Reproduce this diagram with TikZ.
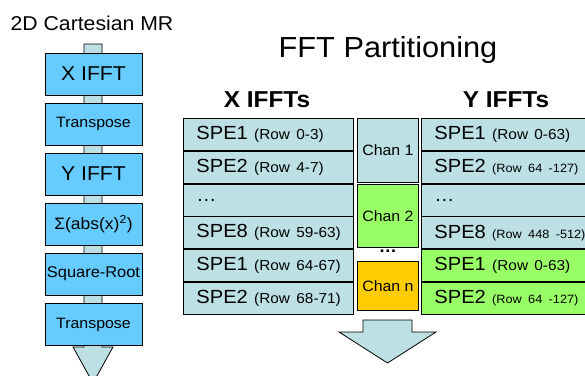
\documentclass[tikz,border=0pt]{standalone}
\usepackage{fontspec}
\setmainfont{Liberation Sans}[FakeStretch=1.06]
\usetikzlibrary{positioning, backgrounds}
\definecolor{stepblue}{RGB}{102,204,255}
\definecolor{rowblue}{RGB}{188,224,228}
\definecolor{changreen}{RGB}{153,255,102}
\definecolor{chanorange}{RGB}{255,204,0}
\newcommand{\fs}[1]{\fontsize{#1}{#1}\selectfont}
% cell text: SPE name, size of the row note, row note
\newcommand{\spe}[3]{\mbox{#1 {\fs{#2}#3}}}

\begin{document}
\begin{tikzpicture}[x=1pt, y=-1pt, line width=0.8pt,
  stepbox/.style={draw, fill=stepblue, minimum width=97pt, minimum height=42pt, inner sep=0pt},
  xrow/.style={draw, fill=rowblue, minimum height=32pt, text width=144pt, inner xsep=13pt, inner ysep=0pt, align=left, font=\fs{19}},
  yrow/.style={draw, fill=rowblue, minimum height=32pt, text width=154pt, inner xsep=13pt, inner ysep=0pt, align=left, font=\fs{19}},
  chanbox/.style={draw, minimum width=61pt, inner sep=0pt, font=\fs{15}},
  bigarrow/.style={draw, fill=rowblue, line width=0.8pt}]
        \useasboundingbox (0,0) rectangle (585,375);

        % Titles
        \node[font=\fs{20}] (mrtitle) at (92,23) {2D Cartesian MR};
        \node[font=\fs{29}] (fftitle) at (388,50) {FFT Partitioning};
        \node[font=\bfseries\fs{23}] (xtitle) at (267,100) {X IFFTs};
        \node[font=\bfseries\fs{23}] (ytitle) at (506,100) {Y IFFTs};

        % MR chain (arrow behind)
        \coordinate (mrtop) at (93,44);
        \draw[bigarrow] (mrtop) ++(-9,0) -- ++(18,0) -- ++(0,303) -- ++(11,0) -- ++(-20,36) -- ++(-20,-36) -- ++(11,0) -- cycle;
        \node[stepbox, font=\fs{20}] (s1) at (93.5,74) {X IFFT};
        \node[stepbox, font=\fs{15}] (s2) at (93.5,124) {Transpose};
        \node[stepbox, font=\fs{20}] (s3) at (93.5,174) {Y IFFT};
        \node[stepbox, font=\fs{16.5}] (s4) at (93.5,224) {Σ(abs(x)\textsuperscript{2})};
        \node[stepbox, font=\fs{15.5}] (s5) at (93.5,274) {Square-Root};
        \node[stepbox, font=\fs{15}] (s6) at (93.5,324.5) {Transpose};

        % X IFFTs
        \node[xrow, anchor=north west] (x1) at (183,118) {\spe{SPE1}{14.5}{(Row 0-3)}};
        \node[xrow, below=0pt of x1] (x2) {\spe{SPE2}{14.5}{(Row 4-7)}};
        \node[xrow, below=0pt of x2] (x3) {\dots};
        \node[xrow, below=0pt of x3] (x4) {\spe{SPE8}{14.5}{(Row 59-63)}};
        \node[xrow, below=0pt of x4] (x5) {\spe{SPE1}{14.5}{(Row 64-67)}};
        \node[xrow, below=0pt of x5] (x6) {\spe{SPE2}{14.5}{(Row 68-71)}};

        % Channels
        \node[chanbox, fill=rowblue, minimum height=64pt, anchor=north west] (c1) at (357,118) {Chan 1};
        \node[chanbox, fill=changreen, minimum height=63pt, below=1pt of c1] (c2) {Chan 2};
        \node[font=\bfseries\fs{17}] (cdots) at (388,251) {\dots};
        \node[chanbox, fill=chanorange, minimum height=49pt, anchor=north west] (cn) at (357,261) {Chan n};

        % Y IFFTs
        \node[yrow, anchor=north west] (y1) at (421,118) {\spe{SPE1}{14.5}{(Row 0-63)}};
        \node[yrow, below=0pt of y1] (y2) {\spe{SPE2}{12}{(Row 64 -127)}};
        \node[yrow, below=0pt of y2] (y3) {\dots};
        \node[yrow, below=0pt of y3] (y4) {\spe{SPE8}{12}{(Row 448 -512)}};
        \node[yrow, fill=changreen, below=0pt of y4] (y5) {\spe{SPE1}{14.5}{(Row 0-63)}};
        \node[yrow, fill=changreen, below=0pt of y5] (y6) {\spe{SPE2}{12}{(Row 64 -127)}};

        % Output
        \coordinate (outtop) at (387.5,320);
        \draw[bigarrow] (outtop) ++(-24.5,0) -- ++(49,0) -- ++(0,12) -- ++(24,0) -- ++(-48.5,31) -- ++(-48.5,-31) -- ++(24,0) -- cycle;
      \end{tikzpicture}
\end{document}
